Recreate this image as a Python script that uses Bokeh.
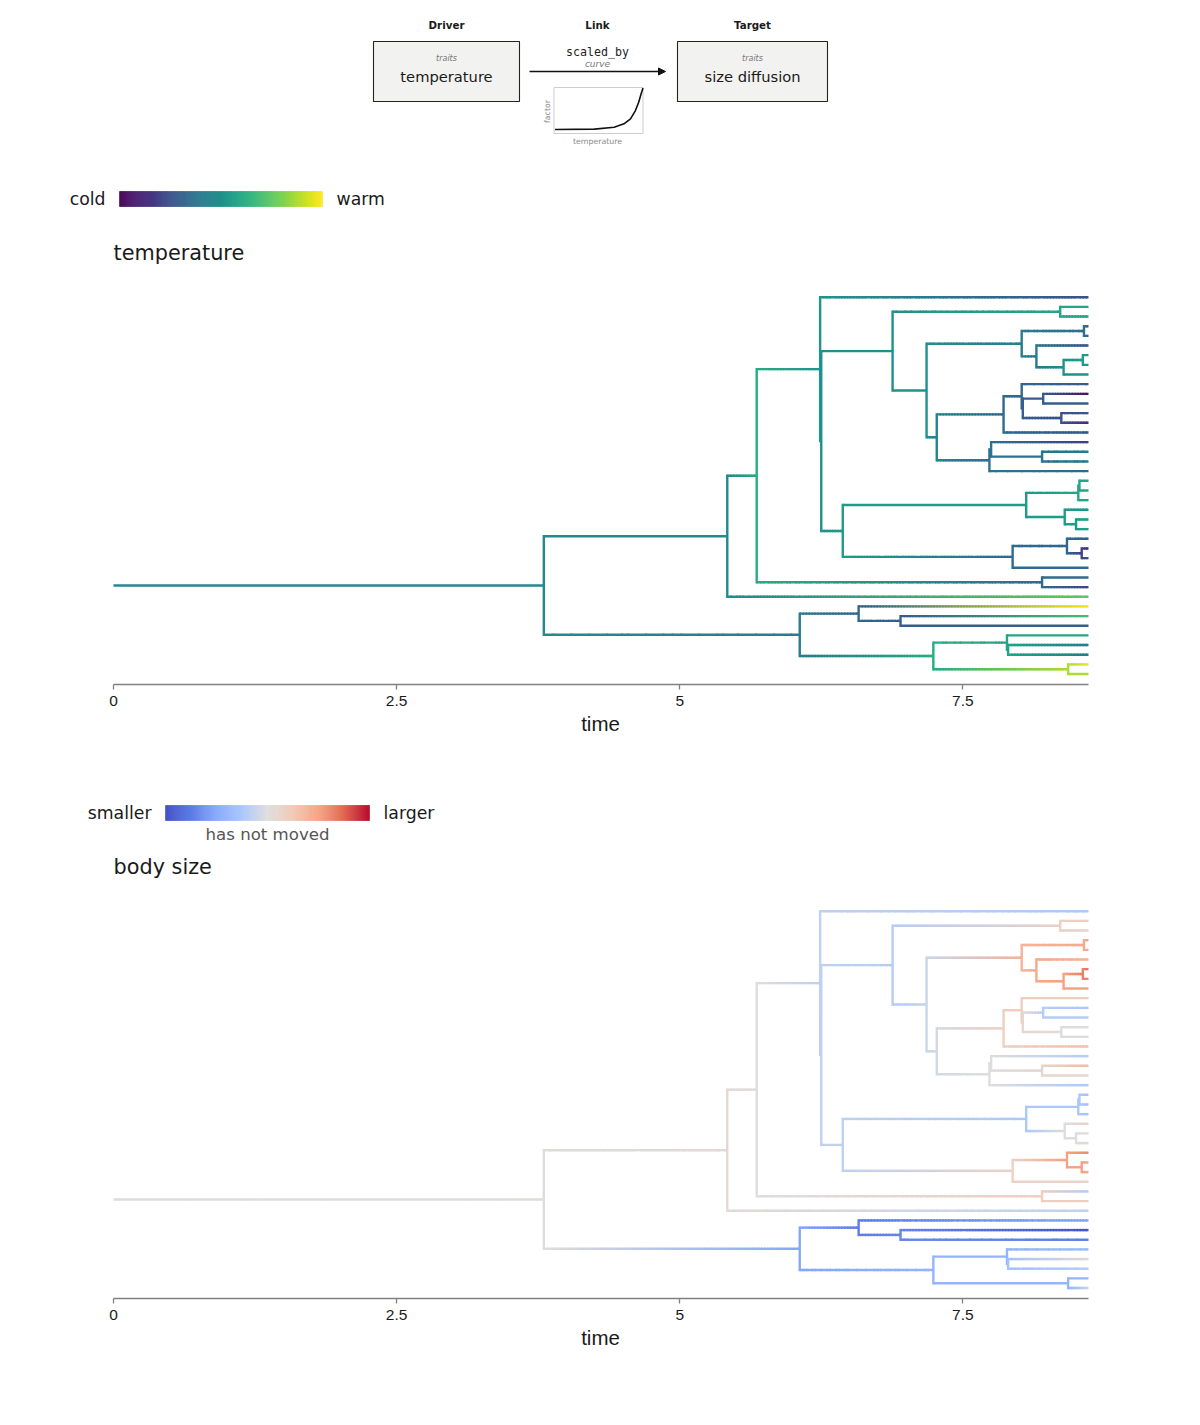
import numpy as np
from bokeh.plotting import figure
from bokeh.layouts import column
from bokeh.models import Range1d, Label, Arrow, NormalHead, FixedTicker
from bokeh.palettes import Viridis256
from bokeh.embed import file_html
from bokeh.resources import INLINE

# ---------------- data ----------------
PRESENT = 8.61  # time of the tips

node_name = ["origin", "root", "DD", "C", "A", "t00", "B", "D", "F", "t01", "t02",
             "G", "H", "J", "t03", "t04", "K", "t05", "L", "M", "t06", "t07", "t08",
             "I", "N", "P2", "t09", "P1", "R", "t10", "t11", "S", "t12", "t13", "t14",
             "O2", "O1", "t15", "T", "t16", "t17", "t18",
             "E", "U", "W2", "W1", "t19", "t20", "t21", "X", "t22", "Y", "t23", "t24",
             "V", "Z", "t25", "AA", "t26", "t27", "t28",
             "BB", "t29", "t30", "t31",
             "EE", "FF", "t32", "HH", "t33", "t34", "GG", "II2", "t35", "II1", "t36", "t37",
             "JJ", "t38", "t39"]
node_parent = [None, "origin", "root", "DD", "C", "A", "A", "B", "D", "F", "F",
               "D", "G", "H", "J", "J", "H", "K", "K", "L", "M", "M", "L",
               "G", "I", "N", "P2", "P2", "P1", "R", "R", "P1", "S", "S", "N",
               "I", "O2", "O1", "O1", "T", "T", "O2",
               "B", "E", "U", "W2", "W1", "W1", "W2", "U", "X", "X", "Y", "Y",
               "E", "V", "Z", "Z", "AA", "AA", "V",
               "C", "BB", "BB", "DD",
               "root", "EE", "FF", "FF", "HH", "HH", "EE", "GG", "II2", "II2", "II1", "II1",
               "GG", "JJ", "JJ"]
# None = tip (at PRESENT)
node_time = [0.0, 3.80, 5.42, 5.68, 6.24, None, 6.25, 6.88, 8.36, None, None,
             7.18, 8.02, 8.57, None, None, 8.15, None, 8.39, 8.56, None, None, None,
             7.27, 7.86, 8.02, None, 8.03, 8.21, None, None, 8.37, None, None, None,
             7.735, 7.75, None, 8.20, None, None, None,
             6.44, 8.06, 8.52, 8.53, None, None, None, 8.40, None, 8.50, None, None,
             7.94, 8.42, None, 8.55, None, None, None,
             8.20, None, None, None,
             6.06, 6.58, None, 6.95, None, None, 7.24, 7.89, None, 7.90, None, None,
             8.43, None, None]
# temperature: 0 = cold, 1 = warm
temperature = [0.48, 0.48, 0.48, 0.62, 0.52, 0.25, 0.50, 0.50, 0.60, 0.60, 0.58,
               0.50, 0.42, 0.36, 0.34, 0.34, 0.40, 0.27, 0.50, 0.55, 0.55, 0.55, 0.50,
               0.45, 0.35, 0.33, 0.30, 0.30, 0.30, 0.05, 0.30, 0.25, 0.28, 0.12, 0.28,
               0.38, 0.38, 0.18, 0.38, 0.40, 0.40, 0.35,
               0.55, 0.55, 0.60, 0.60, 0.60, 0.60, 0.58, 0.55, 0.52, 0.55, 0.58, 0.58,
               0.35, 0.33, 0.30, 0.20, 0.12, 0.25, 0.35,
               0.35, 0.35, 0.20, 0.75,
               0.42, 0.33, 0.98, 0.30, 0.70, 0.30, 0.62, 0.60, 0.60, 0.58, 0.42, 0.42,
               0.88, 0.98, 0.88]
# body size change: -1 = smaller, 0 = has not moved, 1 = larger
body_size = [0.00, 0.02, 0.05, 0.00, -0.15, -0.25, -0.15, -0.20, 0.15, 0.20, 0.10,
             -0.10, 0.40, 0.45, 0.45, 0.45, 0.45, 0.40, 0.50, 0.65, 0.70, 0.60, 0.50,
             -0.05, 0.20, 0.20, 0.20, 0.10, -0.20, -0.25, -0.20, 0.00, 0.05, 0.00, 0.30,
             0.00, 0.00, -0.20, 0.10, 0.35, 0.10, -0.25,
             -0.15, -0.25, -0.25, -0.25, -0.30, -0.30, -0.30, 0.00, 0.15, 0.00, 0.00, 0.05,
             0.15, 0.50, 0.60, 0.50, 0.45, 0.45, 0.15,
             0.20, -0.20, 0.20, -0.15,
             -0.50, -0.75, -0.50, -0.70, -0.95, -0.75, -0.40, -0.40, -0.35, -0.30, 0.05, -0.20,
             -0.40, -0.40, -0.10]

time_ticks = [0, 2.5, 5, 7.5]
time_tick_labels = ["0", "2.5", "5", "7.5"]

# link curve (normalised temperature -> normalised factor)
curve_temperature = [0.0, 0.448, 0.672, 0.784, 0.858, 0.914, 0.951, 0.978, 1.0]
curve_factor = [0.0, 0.008, 0.056, 0.136, 0.256, 0.456, 0.656, 0.856, 1.0]

# ---------------- colours ----------------
COOLWARM_ANCHORS = ["#3b4cc0", "#5d7ce6", "#84a7fc", "#abc8fd", "#dddddd",
                    "#f2cbb7", "#f5a283", "#e26952", "#b40426"]


def hex2rgb(h):
    h = h.lstrip("#")
    return np.array([int(h[i:i + 2], 16) for i in (0, 2, 4)], float)


def rgb2hex(c):
    return "#%02x%02x%02x" % tuple(int(round(v)) for v in c)


def viridis(v):
    return hex2rgb(Viridis256[int(round(np.clip(v, 0, 1) * 255))])


_cw = [hex2rgb(h) for h in COOLWARM_ANCHORS]


def coolwarm(v):
    s = np.clip((v + 1) / 2, 0, 1) * (len(_cw) - 1)
    i = min(int(s), len(_cw) - 2)
    f = s - i
    return _cw[i] * (1 - f) + _cw[i + 1] * f


# ---------------- tree layout ----------------
children = {n: [] for n in node_name}
for n, par in zip(node_name, node_parent):
    if par is not None:
        children[par].append(n)
t_of = {n: (PRESENT if t is None else t) for n, t in zip(node_name, node_time)}
y_of = {}
_tip = [0]


def place(n):
    if not children[n]:
        y_of[n] = float(_tip[0])
        _tip[0] += 1
    else:
        for c in children[n]:
            place(c)
        ys = [y_of[c] for c in children[n]]
        y_of[n] = (min(ys) + max(ys)) / 2


place("origin")
N_TIPS = _tip[0]

PAGE_W = 1200
PLOT_X0, PLOT_X1 = 113, 1088          # page pixels where time 0 and PRESENT sit
PLOT_W = PLOT_X1 - PLOT_X0
LW = 2.4
FONT = "DejaVu Sans"


def tree_figure(values, cmap):
    col = {n: cmap(v) for n, v in zip(node_name, values)}
    units_per_px = PRESENT / PLOT_W
    xr = Range1d(-PLOT_X0 * units_per_px, PRESENT + (PAGE_W - PLOT_X1) * units_per_px)
    p = figure(width=PAGE_W, height=490, output_backend="svg", toolbar_location=None,
               x_range=xr, y_range=Range1d(N_TIPS - 1 + 1.08, -1.21),
               y_axis_location=None, min_border_left=0, min_border_right=0,
               min_border_top=15, min_border_bottom=76)
    p.grid.visible = False
    p.outline_line_color = None
    x0s, x1s, ys, cs = [], [], [], []
    for n, par in zip(node_name, node_parent):
        if par is None:
            continue
        ta, tb = t_of[par], t_of[n]
        npx = (tb - ta) / PRESENT * PLOT_W
        k = max(1, int(np.ceil(npx / 3)))
        edges = np.linspace(ta, tb, k + 1)
        step = (tb - ta) / k
        # merge runs of identical colour into one segment
        runs = []
        for j in range(k):
            f = (j + 0.5) / k
            h = rgb2hex(col[par] * (1 - f) + col[n] * f)
            if runs and runs[-1][2] == h:
                runs[-1][1] = j + 1
            else:
                runs.append([j, j + 1, h])
        for a, b, h in runs:
            x0s.append(edges[a])
            x1s.append(min(edges[b] + 0.5 * step, tb))
            ys.append(y_of[n])
            cs.append(h)
    p.segment(x0s, ys, x1s, ys, line_color=cs, line_width=LW, line_cap="butt")
    vx, vy0, vy1, vc = [], [], [], []
    for n in node_name:
        ch = children[n]
        if len(ch) >= 2:
            yy = [y_of[c] for c in ch]
            vx.append(t_of[n])
            vy0.append(min(yy))
            vy1.append(max(yy))
            vc.append(rgb2hex(col[n]))
    p.segment(vx, vy0, vx, vy1, line_color=vc, line_width=LW, line_cap="square")

    ax = p.xaxis[0]
    ax.bounds = (0, PRESENT)
    ax.ticker = FixedTicker(ticks=time_ticks, minor_ticks=[])
    ax.major_label_overrides = {t: l for t, l in zip(time_ticks, time_tick_labels)}
    ax.axis_line_color = "#808080"
    ax.axis_line_width = 1.3
    ax.major_tick_line_color = "#808080"
    ax.major_tick_line_width = 1.3
    ax.major_tick_out = 5
    ax.major_tick_in = 0
    ax.minor_tick_line_color = None
    ax.major_label_text_font = "Liberation Sans"
    ax.major_label_text_font_size = "15.5px"
    ax.major_label_text_color = "#1a1a1a"
    ax.major_label_standoff = 6
    ax.axis_label = "time"
    ax.axis_label_text_font = "Liberation Sans"
    ax.axis_label_text_font_size = "20.5px"
    ax.axis_label_text_font_style = "normal"
    ax.axis_label_text_color = "#1a1a1a"
    ax.axis_label_standoff = 3
    return p


def pixel_figure(height, y_top_page):
    # local coordinates equal page pixel coordinates
    p = figure(width=PAGE_W, height=height, output_backend="svg", toolbar_location=None,
               x_range=Range1d(0, PAGE_W),
               y_range=Range1d(y_top_page + height, y_top_page),
               x_axis_location=None, y_axis_location=None, min_border=0)
    p.grid.visible = False
    p.outline_line_color = None
    return p


def label(p, x, y, text, size, align="center", color="#1a1a1a", style="normal", font=FONT, angle=0):
    p.add_layout(Label(x=x, y=y, text=text, text_font=font, text_font_size=size,
                       text_align=align, text_baseline="middle", text_color=color,
                       text_font_style=style, angle=angle))


def legend_strip(top, cmap, lo, hi, bar_x0, bar_x1, left_txt, right_txt, title, note=None):
    h = 124
    p = pixel_figure(h, top)
    n = 200
    xs = np.linspace(bar_x0, bar_x1, n + 1)
    vals = np.linspace(lo, hi, n)
    cols = [rgb2hex(cmap(v)) for v in vals]
    p.quad(left=xs[:-1], right=xs[1:], top=top + 45, bottom=top + 60,
           fill_color=cols, line_color=cols, line_width=0.6)
    label(p, bar_x0 - 14, top + 52, left_txt, "17.3px", align="right")
    label(p, bar_x1 + 14, top + 52, right_txt, "17.3px", align="left")
    if note:
        label(p, (bar_x0 + bar_x1) / 2, top + 74, note, "16.6px", color="#555555")
    label(p, 113, top + 106, title, "20.8px", align="left")
    return p


# ---------------- header ----------------
hdr = pixel_figure(146, 0)
label(hdr, 446, 24, "Driver", "10.3px", style="bold")
label(hdr, 597, 24, "Link", "10.3px", style="bold")
label(hdr, 752, 24, "Target", "10.3px", style="bold")
hdr.quad(left=[373, 677], right=[519, 827], top=[41, 41], bottom=[101, 101],
         fill_color="#f2f2f0", line_color="#222222", line_width=1.1)
label(hdr, 446, 58, "traits", "8px", color="#777777", style="italic")
label(hdr, 446, 76, "temperature", "14.7px")
label(hdr, 752, 58, "traits", "8px", color="#777777", style="italic")
label(hdr, 752, 76, "size diffusion", "14.7px")
label(hdr, 597, 51, "scaled_by", "11.6px", font="DejaVu Sans Mono", color="#222222")
label(hdr, 597, 63, "curve", "9px", color="#777777", style="italic")
hdr.add_layout(Arrow(end=NormalHead(size=7, fill_color="#111111", line_color="#111111"),
                     x_start=529, y_start=71, x_end=665, y_end=71,
                     line_color="#111111", line_width=1.3))
# inset plot of the curve
ix0, ix1, iy_top, iy_bot = 553.5, 642.5, 87, 133
hdr.quad(left=[ix0], right=[ix1], top=[iy_top], bottom=[iy_bot],
         fill_color=None, line_color="#cccccc", line_width=1)
cx = [ix0 + 1 + v * (ix1 - ix0 - 1) for v in curve_temperature]
cy = [129 - v * (129 - 87.5) for v in curve_factor]
hdr.line(cx, cy, line_color="#111111", line_width=1.6)
label(hdr, 597, 141, "temperature", "7.8px", color="#888888")
label(hdr, 546.5, 111, "factor", "7.8px", color="#888888", angle=np.pi / 2)

# ---------------- panels ----------------
leg1 = legend_strip(146, viridis, 0.0, 1.0, 119, 322, "cold", "warm", "temperature")
tree1 = tree_figure(temperature, viridis)
leg2 = legend_strip(760, coolwarm, -1.0, 1.0, 165, 369, "smaller", "larger", "body size",
                    note="has not moved")
tree2 = tree_figure(body_size, coolwarm)

layout = column(hdr, leg1, tree1, leg2, tree2, spacing=0)
open("out.html", "w").write(file_html(layout, INLINE))
